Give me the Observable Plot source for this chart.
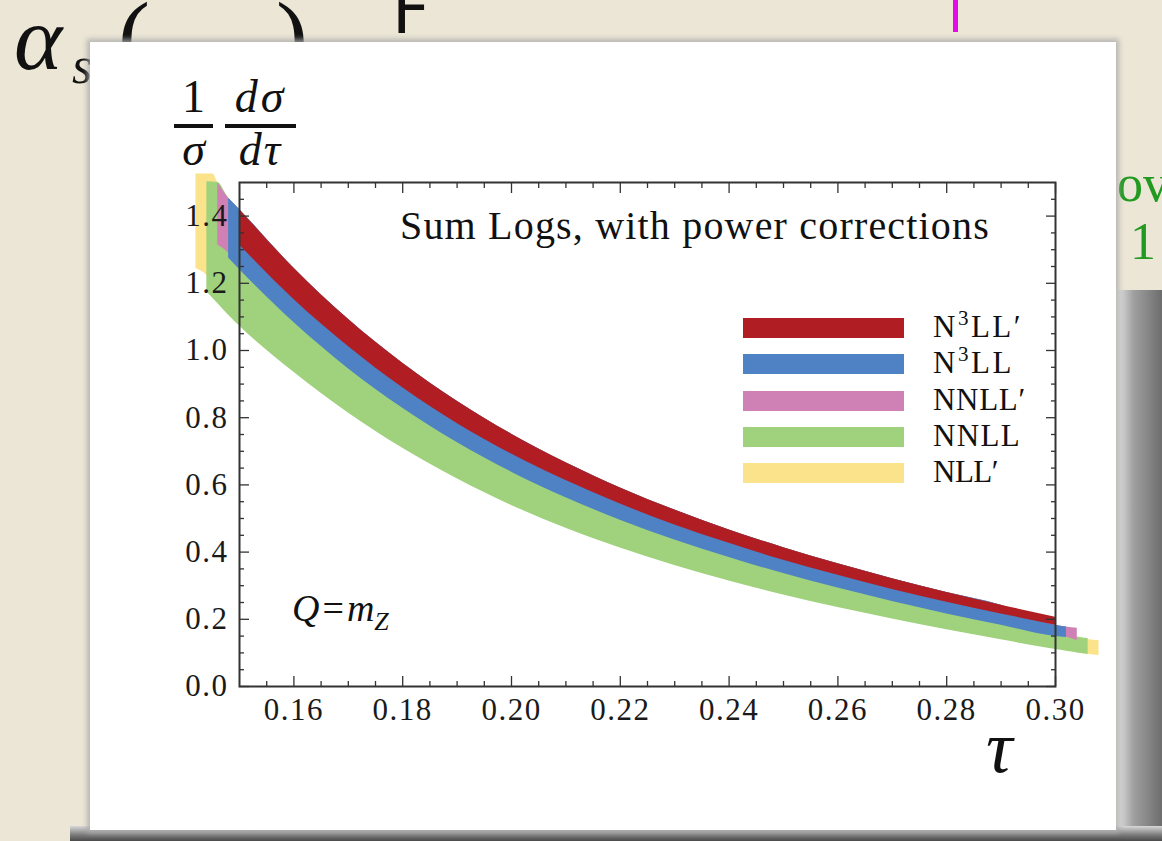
<!DOCTYPE html>
<html><head><meta charset="utf-8">
<script src="https://cdn.jsdelivr.net/npm/d3@7"></script>
<script src="https://cdn.jsdelivr.net/npm/@observablehq/plot@0.6"></script>
<style>
body{margin:0;width:1162px;height:841px;overflow:hidden;position:relative;background:#ebe6d5;font-family:"Liberation Serif",serif;color:#111;}
.abs{position:absolute;white-space:nowrap;line-height:1;}
#chart{position:absolute;left:0;top:0;}
.cm g[aria-label$="tick label"] text{letter-spacing:1.5px;}
.ft{position:absolute;font-size:46px;line-height:1;text-align:center;white-space:nowrap;}
.fb{position:absolute;height:3.5px;background:#111;}
.legtxt{font-size:31px;}
.legtxt sup{font-size:21px;vertical-align:0;position:relative;top:-12px;}
.sw{position:absolute;left:743px;width:161px;height:20px;}
</style></head><body>
<!-- background slide fragments -->
<div class="abs" style="left:14px;top:-8px;font-size:92px;font-style:italic;">α</div>
<div class="abs" style="left:72px;top:40px;font-size:52px;font-style:italic;">s</div>
<div class="abs" style="left:118px;top:-12px;font-size:96px;">(</div>
<div class="abs" style="left:276px;top:-12px;font-size:96px;">)</div>
<div class="abs" style="left:392px;top:-22px;font-size:66px;font-family:'DejaVu Sans',sans-serif;">F</div>
<div class="abs" style="left:953px;top:0;width:5px;height:32px;background:#e60ae6;"></div>
<div class="abs" style="left:1117px;top:158px;font-size:52px;color:#229a22;">ov</div>
<div class="abs" style="left:1130px;top:216px;font-size:52px;color:#229a22;">1</div>
<div class="abs" style="left:1150px;top:611px;width:12px;height:4px;background:#111;"></div>
<!-- torn paper -->
<div class="abs" style="left:1118px;top:290px;width:44px;height:551px;background:linear-gradient(to right,#e0e0e0,#a0a0a0 35%,#6d6d6d);"></div>
<div class="abs" style="left:70px;top:826px;width:1092px;height:15px;background:linear-gradient(#d8d8d8,#7a7a7a 60%,#4a4a4a);"></div>
<div class="abs" style="left:90px;top:42px;width:1026px;height:788px;background:#fff;box-shadow:0 0 5px 3px rgba(170,170,170,0.8);"></div>
<div id="chart"></div>
<!-- overlays: y label as a product of fractions -->
<div class="ft" style="left:174px;top:74px;width:39px;">1</div>
<div class="fb" style="left:174px;top:124px;width:39px;"></div>
<div class="ft" style="left:174px;top:127px;width:39px;font-style:italic;">σ</div>
<div class="ft" style="left:225px;top:74px;width:71px;font-style:italic;letter-spacing:3px;">dσ</div>
<div class="fb" style="left:225px;top:124px;width:71px;"></div>
<div class="ft" style="left:225px;top:127px;width:71px;font-style:italic;letter-spacing:2px;">dτ</div>
<div class="abs" id="sumlogs" style="left:400px;top:206px;font-size:40px;">Sum Logs, with power corrections</div>
<div class="abs" style="left:292px;top:589px;font-size:38px;"><i>Q</i><span style="margin:0 3px">=</span><i>m</i><i style="font-size:26px;position:relative;top:9px;">Z</i></div>
<div class="abs" style="left:986px;top:710px;font-size:74px;font-style:italic;">τ</div>
<div id="legend"></div>
<script>
// ---- data ----
const bandNames  = ["NLL′", "NNLL", "NNLL′", "N3LL", "N3LL′"];
const bandLabels = ["NLL′", "NNLL", "NNLL′", "N<sup>3</sup>LL", "N<sup>3</sup>LL′"];
const bandColors = ["#fae38b", "#a0d17c", "#cf80b5", "#4e82c4", "#b01e24"];

const redTau = [0.150,0.160,0.170,0.180,0.190,0.200,0.210,0.220,0.230,0.240,0.250,0.260,0.270,0.280,0.290,0.300];
const redLo  = [1.314,1.152,1.012,0.889,0.783,0.692,0.613,0.543,0.481,0.426,0.376,0.331,0.289,0.251,0.216,0.182];
const redHi  = [1.420,1.245,1.093,0.962,0.849,0.751,0.666,0.591,0.525,0.466,0.413,0.365,0.321,0.280,0.242,0.206];

const blueTau = [0.148,0.150,0.160,0.170,0.180,0.190,0.200,0.210,0.220,0.230,0.240,0.250,0.260,0.270,0.280,0.290,0.300,0.302];
const blueLo  = [1.275,1.241,1.083,0.946,0.828,0.726,0.638,0.562,0.495,0.436,0.384,0.336,0.293,0.253,0.216,0.182,0.149,0.146];
const blueHi  = [1.453,1.420,1.245,1.093,0.962,0.849,0.751,0.666,0.591,0.525,0.466,0.413,0.365,0.321,0.280,0.242,0.182,0.177];

const pinkTau = [0.146,0.148,0.150,0.160,0.170,0.180,0.190,0.200,0.210,0.220,0.230,0.240,0.250,0.260,0.270,0.280,0.290,0.300,0.302,0.304];
const pinkLo  = [1.314,1.290,1.249,1.091,0.954,0.836,0.734,0.646,0.570,0.503,0.444,0.392,0.344,0.301,0.261,0.224,0.190,0.157,0.147,0.137];
const pinkHi  = [1.499,1.453,1.420,1.245,1.093,0.962,0.849,0.751,0.666,0.591,0.525,0.466,0.413,0.365,0.321,0.280,0.242,0.182,0.177,0.173];

const greenTau = [0.144,0.146,0.148,0.150,0.160,0.170,0.180,0.190,0.200,0.210,0.220,0.230,0.240,0.250,0.260,0.270,0.280,0.290,0.300,0.302,0.304,0.306];
const greenLo  = [1.175,1.140,1.105,1.073,0.935,0.814,0.709,0.618,0.539,0.471,0.412,0.360,0.314,0.272,0.235,0.201,0.169,0.139,0.110,0.105,0.100,0.095];
const greenHi  = [1.502,1.500,1.453,1.420,1.245,1.093,0.962,0.849,0.751,0.666,0.591,0.525,0.466,0.413,0.365,0.321,0.280,0.242,0.182,0.165,0.147,0.143];

const yellowTau = [0.142,0.1451,0.146,0.148,0.150,0.160,0.170,0.180,0.190,0.200,0.210,0.220,0.230,0.240,0.250,0.260,0.270,0.280,0.290,0.300,0.302,0.304,0.306,0.308];
const yellowLo  = [1.244,1.200,1.160,1.120,1.083,0.945,0.824,0.719,0.628,0.549,0.481,0.422,0.370,0.324,0.282,0.245,0.211,0.179,0.149,0.118,0.108,0.102,0.096,0.092];
const yellowHi  = [1.525,1.525,1.499,1.453,1.420,1.245,1.093,0.962,0.849,0.751,0.666,0.591,0.525,0.466,0.413,0.365,0.321,0.280,0.242,0.182,0.150,0.143,0.140,0.136];

const xMajor = [0.16,0.18,0.20,0.22,0.24,0.26,0.28,0.30];
const yMajor = [0.0,0.2,0.4,0.6,0.8,1.0,1.2,1.4];
const xMinor = d3.range(0.155, 0.3, 0.005).filter(v => !xMajor.some(m => Math.abs(m - v) < 1e-6));
const yMinor = d3.range(0.05, 1.5, 0.05).filter(v => !yMajor.some(m => Math.abs(m - v) < 1e-6));

// ---- build ----
const bands = [
  [yellowTau, yellowLo, yellowHi],
  [greenTau, greenLo, greenHi],
  [pinkTau, pinkLo, pinkHi],
  [blueTau, blueLo, blueHi],
  [redTau, redLo, redHi]
].map(([t, lo, hi], i) => ({name: bandNames[i], color: bandColors[i], rows: t.map((tau, j) => ({tau, lo: lo[j], hi: hi[j]}))}));

const tickStyle = {stroke: "#333", strokeWidth: 1.3, label: null, tickFormat: () => ""};
const chart = Plot.plot({
  width: 1162, height: 841,
  marginLeft: 239, marginRight: 107, marginTop: 182, marginBottom: 155,
  className: "cm",
  style: {background: "transparent", fontFamily: "Liberation Serif", fontSize: "31px", color: "#1a1a1a", overflow: "visible"},
  x: {domain: [0.15, 0.30]},
  y: {domain: [0, 1.5]},
  marks: [
    ...bands.map(b => Plot.areaY(b.rows, {x: "tau", y1: "lo", y2: "hi", fill: b.color, curve: "monotone-x"})),
    Plot.frame({stroke: "#333", strokeWidth: 2}),
    Plot.axisX(xMajor, {anchor: "bottom", tickSize: 0, tickPadding: 11, tickFormat: d3.format(".2f"), label: null}),
    Plot.axisY(yMajor, {anchor: "left", tickSize: 0, tickPadding: 11, tickFormat: d3.format(".1f"), label: null}),
    Plot.axisX(xMajor, {anchor: "bottom", tickSize: -10, ...tickStyle}),
    Plot.axisX(xMinor, {anchor: "bottom", tickSize: -5, ...tickStyle}),
    Plot.axisX(xMajor, {anchor: "top", tickSize: -10, ...tickStyle}),
    Plot.axisX(xMinor, {anchor: "top", tickSize: -5, ...tickStyle}),
    Plot.axisY(yMajor, {anchor: "left", tickSize: -10, ...tickStyle}),
    Plot.axisY(yMinor, {anchor: "left", tickSize: -5, ...tickStyle}),
    Plot.axisY(yMajor, {anchor: "right", tickSize: -10, ...tickStyle}),
    Plot.axisY(yMinor, {anchor: "right", tickSize: -5, ...tickStyle})
  ]
});
document.getElementById("chart").appendChild(chart);

// legend (top to bottom: highest order first)
const legend = document.getElementById("legend");
const legTops = [463, 427, 391, 354, 318];
const legWidths = [65, 88, 93, 81, 90];
bands.forEach((b, i) => {
  const sw = document.createElement("div");
  sw.className = "sw"; sw.style.top = legTops[i] + "px"; sw.style.background = b.color;
  legend.appendChild(sw);
  const t = document.createElement("div");
  t.className = "abs legtxt"; t.style.left = "933px"; t.style.top = (legTops[i] - 7) + "px";
  t.innerHTML = bandLabels[i];
  legend.appendChild(t);
  const w = t.getBoundingClientRect().width;
  const n = t.textContent.length;
  t.style.letterSpacing = ((legWidths[i] - w) / n) + "px";
});
// fit title width
const sl = document.getElementById("sumlogs");
const sw0 = sl.getBoundingClientRect().width;
sl.style.letterSpacing = ((590 - sw0) / sl.textContent.length) + "px";
</script>
</body></html>
